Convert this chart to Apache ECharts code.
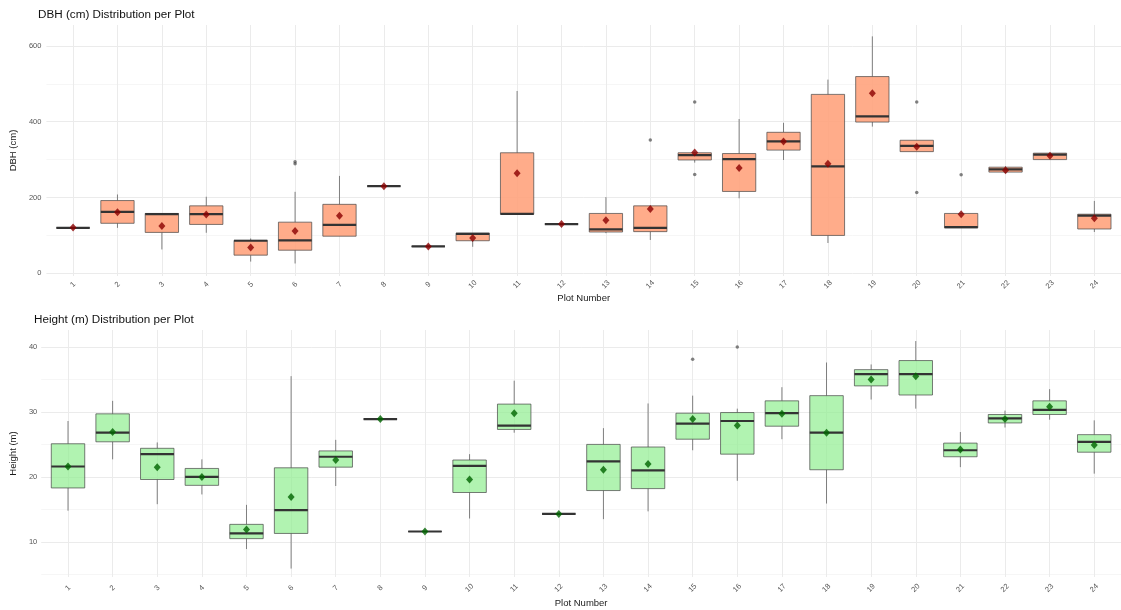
<!DOCTYPE html>
<html>
<head>
<meta charset="utf-8">
<script src="https://cdn.jsdelivr.net/npm/echarts@6/dist/echarts.min.js"></script>
<style>
html,body{margin:0;padding:0;background:#fff;}
#chart{width:1121px;height:610px;}
</style>
</head>
<body>
<div id="chart"></div>
<script>
const plots = [1,2,3,4,5,6,7,8,9,10,11,12,13,14,15,16,17,18,19,20,21,22,23,24];

// DBH (cm)
const dbhMin  = [120,120, 63,107, 31, 26, 98,230, 71, 70,156,130,106, 88,292,198,299, 80,387,321,120,265,300,109];
const dbhQ1   = [120,132,108,129, 48, 61, 98,230, 71, 86,156,130,109,110,299,216,325,100,399,321,120,267,300,117];
const dbhMed  = [120,162,156,156, 86, 87,128,230, 71,104,157,130,116,120,312,301,348,282,414,336,122,274,313,152];
const dbhQ3   = [120,192,158,178, 87,135,182,230, 71,106,318,130,158,178,318,316,372,472,519,351,158,280,317,156];
const dbhMax  = [120,208,158,202, 92,215,257,230, 71,106,481,130,201,178,318,407,397,511,625,351,158,282,317,191];
const dbhMean = [121,161,125,155, 68,112,152,230, 71, 93,264,130,140,170,319,278,348,289,475,334,156,272,310,145];
const dbhOutPlot = [6,6,14,15,15,20,20,21];
const dbhOutVal  = [294,289,352,452,261,452,213,260];

// Height (m)
const htMin  = [14.8,22.7,15.8,17.3, 8.9, 5.9,18.6,28.9,11.6,13.6,26.8,14.3,13.5,14.7,24.1,19.4,25.8,15.9,31.9,30.5,21.5,27.6,28.8,20.5];
const htQ1   = [18.3,25.4,19.6,18.7,10.5,11.3,21.5,28.9,11.6,17.6,27.3,14.3,17.9,18.2,25.8,23.5,27.8,21.1,34.0,32.6,23.1,28.3,29.6,23.8];
const htMed  = [21.6,26.8,23.5,20.0,11.3,14.9,23.1,28.9,11.6,21.7,27.9,14.3,22.4,21.0,28.2,28.6,29.8,26.8,35.8,35.8,24.1,29.0,30.3,25.4];
const htQ3   = [25.1,29.7,24.4,21.3,12.7,21.4,24.0,28.9,11.6,22.6,31.2,14.3,25.0,24.6,29.8,29.9,31.7,32.5,36.5,37.9,25.2,29.6,31.7,26.5];
const htMax  = [28.6,31.7,25.3,22.7,15.7,35.5,25.7,28.9,11.6,23.5,34.8,14.3,27.5,31.3,32.5,30.5,33.8,37.6,37.3,40.9,26.9,30.2,33.5,28.7];
const htMean = [21.6,26.9,21.5,20.0,11.9,16.9,22.6,28.9,11.6,19.6,29.8,14.3,21.1,22.0,28.9,27.9,29.7,26.8,35.0,35.5,24.2,28.9,30.8,24.9];
const htOutPlot = [15,16];
const htOutVal  = [38.1,40.0];

const dbhTicks = [0,200,400,600];
const dbhMinor = [100,300,500];
const htTicks = [10,20,30,40];
const htMinor = [5,15,25,35];

const FONT = 'Liberation Sans, Arial, sans-serif';

function boxData(mn,q1,md,q3,mx){
  return plots.map((p,i)=>[p,mn[i],q1[i],md[i],q3[i],mx[i]]);
}
function makeRender(fill){
  return function(params, api){
    const x = api.value(0);
    const pMin = api.coord([x, api.value(1)]);
    const pQ1 = api.coord([x, api.value(2)]);
    const pMed = api.coord([x, api.value(3)]);
    const pQ3 = api.coord([x, api.value(4)]);
    const pMax = api.coord([x, api.value(5)]);
    const w = api.size([0.75, 0])[0];
    const cx = pMed[0];
    return {type:'group', children:[
      {type:'line', shape:{x1:cx,y1:pMax[1],x2:cx,y2:pQ3[1]}, style:{stroke:'rgba(90,90,90,0.75)',lineWidth:1}},
      {type:'line', shape:{x1:cx,y1:pQ1[1],x2:cx,y2:pMin[1]}, style:{stroke:'rgba(90,90,90,0.75)',lineWidth:1}},
      {type:'rect', shape:{x:cx-w/2,y:pQ3[1],width:w,height:pQ1[1]-pQ3[1]}, style:{fill:fill,stroke:'rgba(70,70,70,0.7)',lineWidth:1}},
      {type:'line', shape:{x1:cx-w/2,y1:pMed[1],x2:cx+w/2,y2:pMed[1]}, style:{stroke:'#333333',lineWidth:2.2}}
    ]};
  };
}

function xAxisCfg(gridIndex, margin, gap){
  return {
    type:'value', gridIndex, min:0.4, max:24.6,
    name:'Plot Number', nameLocation:'middle', nameGap:gap,
    nameTextStyle:{fontFamily:FONT,fontSize:9.5,color:'#1a1a1a'},
    axisLine:{show:false},
    axisTick:{show:false, customValues:plots},
    axisLabel:{customValues:plots, rotate:45, margin:margin, fontSize:7.5, color:'#555', fontFamily:FONT, align:'center', verticalAlign:'middle'},
    splitLine:{show:true, lineStyle:{color:'#ebebeb', width:1}}
  };
}
function yAxisCfg(gridIndex, min, max, ticks, name, gap, margin){
  return {
    type:'value', gridIndex, min, max,
    name, nameLocation:'middle', nameGap:gap, nameRotate:90,
    nameTextStyle:{fontFamily:FONT,fontSize:9.5,color:'#1a1a1a'},
    axisLine:{show:false},
    axisTick:{show:false, customValues:ticks},
    axisLabel:{customValues:ticks, margin:margin, fontSize:7.5, color:'#555', fontFamily:FONT},
    splitLine:{show:true, lineStyle:{color:'#ebebeb', width:1}}
  };
}
function yMinorCfg(gridIndex, min, max, ticks){
  return {
    type:'value', gridIndex, min, max, position:'left',
    axisLine:{show:false},
    axisTick:{show:false, customValues:ticks},
    axisLabel:{show:false, customValues:ticks},
    splitLine:{show:true, lineStyle:{color:'#f4f4f4', width:0.8}}
  };
}

const chart = echarts.init(document.getElementById('chart'), null, {renderer:'canvas'});
chart.setOption({
  animation:false,
  backgroundColor:'#ffffff',
  title:[
    {text:'DBH (cm) Distribution per Plot', left:38, top:9, padding:0, textStyle:{fontFamily:FONT,fontSize:11.7,fontWeight:'normal',color:'#111'}},
    {text:'Height (m) Distribution per Plot', left:34, top:314, padding:0, textStyle:{fontFamily:FONT,fontSize:11.7,fontWeight:'normal',color:'#111'}}
  ],
  grid:[
    {left:38.7, top:25, width:1090, height:251},
    {left:33.85, top:330, width:1095, height:247}
  ],
  xAxis:[ xAxisCfg(0, 8.5, 17.5), xAxisCfg(1, 11, 21.5) ],
  yAxis:[
    yAxisCfg(0, -7, 655, dbhTicks, 'DBH (cm)', 16.5, 5),
    yAxisCfg(1, 4.6, 42.6, htTicks, 'Height (m)', 12, 4),
    yMinorCfg(0, -7, 655, dbhMinor),
    yMinorCfg(1, 4.6, 42.6, htMinor)
  ],
  series:[
    {type:'custom', xAxisIndex:0, yAxisIndex:0, renderItem:makeRender('rgba(255,160,122,0.88)'),
      data:boxData(dbhMin,dbhQ1,dbhMed,dbhQ3,dbhMax), encode:{x:0,y:[1,2,3,4,5]}, z:3},
    {type:'scatter', xAxisIndex:0, yAxisIndex:0, symbol:'circle', symbolSize:3.5,
      itemStyle:{color:'rgba(60,60,60,0.8)'}, data:dbhOutPlot.map((p,i)=>[p,dbhOutVal[i]]), z:4},
    {type:'scatter', xAxisIndex:0, yAxisIndex:0, symbol:'diamond', symbolSize:[7,8],
      itemStyle:{color:'#8B0000'}, data:plots.map((p,i)=>[p,dbhMean[i]]), z:5},
    {type:'custom', xAxisIndex:1, yAxisIndex:1, renderItem:makeRender('rgba(144,238,144,0.7)'),
      data:boxData(htMin,htQ1,htMed,htQ3,htMax), encode:{x:0,y:[1,2,3,4,5]}, z:3},
    {type:'scatter', xAxisIndex:1, yAxisIndex:1, symbol:'circle', symbolSize:3.5,
      itemStyle:{color:'rgba(60,60,60,0.8)'}, data:htOutPlot.map((p,i)=>[p,htOutVal[i]]), z:4},
    {type:'scatter', xAxisIndex:1, yAxisIndex:1, symbol:'diamond', symbolSize:[7,8],
      itemStyle:{color:'#006400'}, data:plots.map((p,i)=>[p,htMean[i]]), z:5}
  ]
});
</script>
</body>
</html>
